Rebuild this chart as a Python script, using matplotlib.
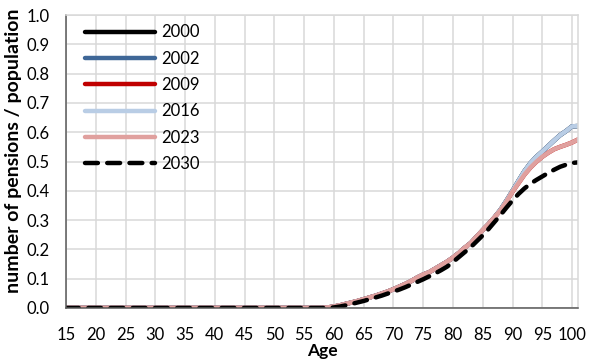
import matplotlib
matplotlib.use("Agg")
import matplotlib.pyplot as plt
import numpy as np

plt.rcParams["font.family"] = ["Lato", "DejaVu Sans"]

# ages 15..101, one value per age
ages = list(range(15, 102))
zeros = [0.0] * 43  # ages 15..57

tail_2016 = [0.000, 0.002, 0.005, 0.009, 0.014, 0.019, 0.024, 0.030, 0.036, 0.042,
             0.049, 0.056, 0.064, 0.073, 0.082, 0.092, 0.104, 0.114, 0.122, 0.134,
             0.146, 0.158, 0.172, 0.188, 0.206, 0.222, 0.244, 0.266, 0.287, 0.310,
             0.336, 0.367, 0.400, 0.434, 0.467, 0.494, 0.516, 0.534, 0.553, 0.572,
             0.590, 0.604, 0.620, 0.621]
tail_2023 = [0.000, 0.002, 0.005, 0.009, 0.014, 0.019, 0.024, 0.030, 0.036, 0.042,
             0.049, 0.056, 0.064, 0.073, 0.082, 0.092, 0.104, 0.114, 0.122, 0.134,
             0.146, 0.158, 0.172, 0.188, 0.206, 0.222, 0.244, 0.266, 0.287, 0.310,
             0.334, 0.364, 0.397, 0.426, 0.455, 0.479, 0.499, 0.516, 0.530, 0.542,
             0.550, 0.557, 0.565, 0.575]
tail_2030 = [0.000, 0.000, 0.002, 0.005, 0.009, 0.014, 0.019, 0.024, 0.030, 0.036,
             0.042, 0.049, 0.056, 0.063, 0.071, 0.080, 0.089, 0.098, 0.108, 0.118,
             0.129, 0.141, 0.157, 0.174, 0.191, 0.208, 0.228, 0.248, 0.270, 0.294,
             0.318, 0.343, 0.367, 0.389, 0.408, 0.424, 0.437, 0.449, 0.461, 0.472,
             0.482, 0.489, 0.495, 0.497]

pens_2000 = zeros + tail_2016
pens_2002 = zeros + tail_2016
pens_2009 = zeros + tail_2023
pens_2016 = zeros + tail_2016
pens_2023 = zeros + tail_2023
pens_2030 = zeros + tail_2030

years = ["2000", "2002", "2009", "2016", "2023", "2030"]
series = [pens_2000, pens_2002, pens_2009, pens_2016, pens_2023, pens_2030]
colors = ["#000000", "#3f6797", "#c00000", "#b9cde5", "#e0a09e", "#000000"]

x_ticks = list(range(15, 101, 5))
y_ticks = [round(0.1 * i, 1) for i in range(11)]

fig = plt.figure(figsize=(5.92, 3.6), dpi=100)
ax = fig.add_axes([66 / 592, 52 / 360, 512 / 592, 293 / 360])

for year, vals, col in zip(years, series, colors):
    if year == "2030":
        ax.plot(ages, vals, color=col, lw=3.2, ls=(0, (2.9, 2.1)),
                dash_capstyle="round", label=year)
    else:
        ax.plot(ages, vals, color=col, lw=3.2, solid_capstyle="round", label=year)

ax.set_xlim(15, 101)
ax.set_ylim(0, 1.0)
ax.set_xticks(x_ticks)
ax.set_yticks(y_ticks)
ax.set_yticklabels([f"{v:.1f}" for v in y_ticks])
ax.tick_params(length=0, labelsize=12, colors="#000000")
ax.tick_params(axis="y", pad=12)
ax.tick_params(axis="x", pad=14)
ax.grid(True, color="#d9d9d9", lw=1.1)
ax.set_axisbelow(True)
for side in ["top", "right"]:
    ax.spines[side].set_color("#d9d9d9")
    ax.spines[side].set_linewidth(1.1)
for side in ["left", "bottom"]:
    ax.spines[side].set_color("#595959")
    ax.spines[side].set_linewidth(1.1)

ax.set_xlabel("Age", fontsize=12.5, fontweight="bold", labelpad=0)
fig.text(14 / 592, 1 - 151 / 360, "number of pensions / population", rotation=90,
         ha="center", va="center", fontsize=14, fontweight="bold")

ax.legend(loc="upper left", bbox_to_anchor=(0.037, 0.968), frameon=False,
          fontsize=12, handlelength=4.2, handletextpad=0.4, labelspacing=0.62,
          borderpad=0, borderaxespad=0)

fig.savefig("out.png", dpi=100)
